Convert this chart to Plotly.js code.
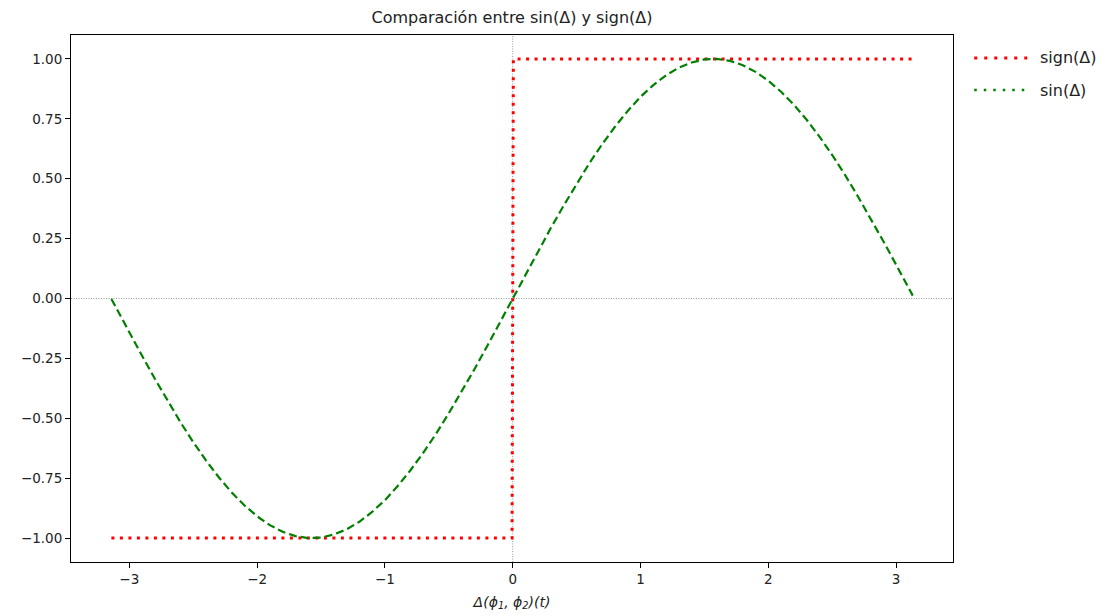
<!DOCTYPE html>
<html>
<head>
<meta charset="utf-8">
<script src="https://cdn.plot.ly/plotly-3.0.1.min.js"></script>
<style>html,body{margin:0;padding:0;background:#fff;}#chart{width:1113px;height:616px;}</style>
</head>
<body>
<div id="chart"></div>
<script>
// sign(Δ) series
var signX = [-3.14, -0.005, 0.005, 3.13];
var signY = [-1, -1, 1, 1];

// sin(Δ) series
var sinX = [-3.14, -3.1, -3.0, -2.9, -2.8, -2.7, -2.6, -2.5, -2.4, -2.3, -2.2, -2.1, -2.0, -1.9, -1.8, -1.7, -1.6, -1.5, -1.4, -1.3, -1.2, -1.1, -1.0, -0.9, -0.8, -0.7, -0.6, -0.5, -0.4, -0.3, -0.2, -0.1, 0.0,
            0.1, 0.2, 0.3, 0.4, 0.5, 0.6, 0.7, 0.8, 0.9, 1.0, 1.1, 1.2, 1.3, 1.4, 1.5, 1.6, 1.7, 1.8, 1.9, 2.0, 2.1, 2.2, 2.3, 2.4, 2.5, 2.6, 2.7, 2.8, 2.9, 3.0, 3.1, 3.13];
var sinY = [-0.002, -0.042, -0.141, -0.239, -0.335, -0.427, -0.516, -0.599, -0.676, -0.746, -0.809, -0.863, -0.909, -0.946, -0.974, -0.992, -1.0, -0.998, -0.985, -0.964, -0.932, -0.891, -0.842, -0.783, -0.717, -0.644, -0.565, -0.479, -0.389, -0.296, -0.199, -0.1, 0.0,
            0.1, 0.199, 0.296, 0.389, 0.479, 0.565, 0.644, 0.717, 0.783, 0.842, 0.891, 0.932, 0.964, 0.985, 0.998, 1.0, 0.992, 0.974, 0.946, 0.909, 0.863, 0.809, 0.746, 0.676, 0.599, 0.516, 0.427, 0.335, 0.239, 0.141, 0.042, 0.012];

var seriesNames = ["sign(Δ)", "sin(Δ)"];
var xTicks = [-3, -2, -1, 0, 1, 2, 3];
var yTicks = [-1.0, -0.75, -0.5, -0.25, 0.0, 0.25, 0.5, 0.75, 1.0];

var traces = [
  {x: signX, y: signY, mode: 'lines', name: seriesNames[0], showlegend: false,
   line: {color: '#ff0000', width: 3, dash: '3px,5.5px'}},
  {x: sinX, y: sinY, mode: 'lines', name: seriesNames[1], showlegend: false,
   line: {color: '#008000', width: 2.2, dash: '8px,4px'}}
];

var font = "DejaVu Sans, sans-serif";
var layout = {
  width: 1113, height: 616,
  margin: {l: 71, r: 160, t: 35, b: 54},
  paper_bgcolor: '#fff', plot_bgcolor: '#fff',
  showlegend: false,
  title: {text: 'Comparación entre sin(Δ) y sign(Δ)', x: 0.5, xref: 'paper', y: 0.972, yanchor: 'middle',
          font: {family: font, size: 16, color: '#222'}},
  xaxis: {range: [-3.456, 3.445], tickvals: xTicks, ticks: 'outside', ticklen: 5, tickcolor: '#000',
          showgrid: false, zeroline: false, showline: true, mirror: true, linecolor: '#000', linewidth: 1,
          tickfont: {family: font, size: 13.5, color: '#222'},
          title: {text: '<i>Δ(ϕ<sub>1</sub>, ϕ<sub>2</sub>)(t)</i>', standoff: 10, font: {family: font, size: 14, color: '#222'}}},
  yaxis: {range: [-1.1, 1.1], tickvals: yTicks, tickformat: '.2f', ticks: 'outside', ticklen: 5, tickcolor: '#000',
          showgrid: false, zeroline: false, showline: true, mirror: true, linecolor: '#000', linewidth: 1,
          tickfont: {family: font, size: 13.5, color: '#222'}},
  shapes: [
    {type: 'line', xref: 'x', yref: 'paper', x0: 0, x1: 0, y0: 0, y1: 1, layer: 'below',
     line: {color: '#808080', width: 0.8, dash: '1px,1.5px'}},
    {type: 'line', xref: 'paper', yref: 'y', x0: 0, x1: 1, y0: 0, y1: 0, layer: 'below',
     line: {color: '#808080', width: 0.8, dash: '1px,1.5px'}},
    {type: 'line', xref: 'paper', yref: 'paper', x0: 1.0241, x1: 1.0843, y0: 0.9564, y1: 0.9564,
     line: {color: '#ff0000', width: 3, dash: '3px,7px'}},
    {type: 'line', xref: 'paper', yref: 'paper', x0: 1.0241, x1: 1.0843, y0: 0.8956, y1: 0.8956,
     line: {color: '#008000', width: 2.5, dash: '2.5px,7px'}}
  ],
  annotations: [
    {xref: 'paper', yref: 'paper', x: 1.0968, y: 0.9564, xanchor: 'left', yanchor: 'middle', showarrow: false,
     text: seriesNames[0], font: {family: font, size: 16, color: '#222'}},
    {xref: 'paper', yref: 'paper', x: 1.0968, y: 0.8956, xanchor: 'left', yanchor: 'middle', showarrow: false,
     text: seriesNames[1], font: {family: font, size: 16, color: '#222'}}
  ]
};

Plotly.newPlot('chart', traces, layout, {displayModeBar: false, staticPlot: true});
</script>
</body>
</html>
